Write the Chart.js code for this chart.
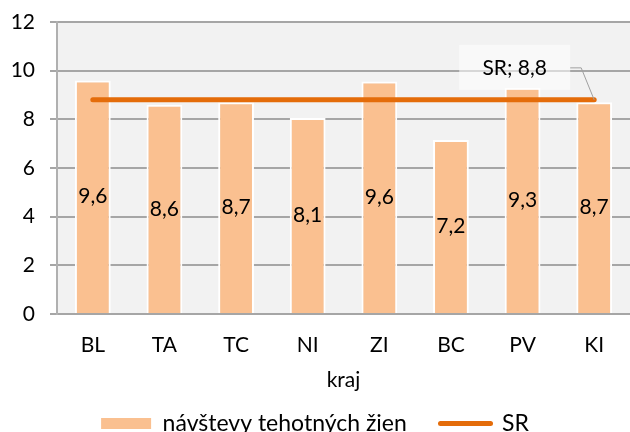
<!DOCTYPE html>
<html>
<head>
<meta charset="utf-8">
<script src="https://cdn.jsdelivr.net/npm/chart.js"></script>
<style>
  html, body { margin: 0; padding: 0; overflow: hidden; background: #fff; }
  #wrap { width: 630px; height: 445px; }
</style>
</head>
<body>
<div id="wrap"><canvas id="c"></canvas></div>
<script>
    'use strict';

    const categories = ['BL', 'TA', 'TC', 'NI', 'ZI', 'BC', 'PV', 'KI'];
    const visitValues = [9.6, 8.6, 8.7, 8.05, 9.55, 7.15, 9.3, 8.7];
    const visitLabels = ['9,6', '8,6', '8,7', '8,1', '9,6', '7,2', '9,3', '8,7'];
    const srValue = 8.8;
    const srLabel = 'SR; 8,8';
    const yTicks = [0, 2, 4, 6, 8, 10, 12];

    const FONT = 'Lato, "Open Sans", sans-serif';
    const FS = 21;

    // fond šedej plochy grafu
    const plotBg = {
        id: 'plotBg',
        beforeDraw(chart) {
            const a = chart.chartArea, ctx = chart.ctx;
            ctx.save();
            ctx.fillStyle = '#f2f2f2';
            ctx.fillRect(a.left, a.top, a.right - a.left, a.bottom - a.top);
            ctx.restore();
        }
    };

    // popisky hodnôt v strede stĺpcov + popisok SR
    const valueLabels = {
        id: 'valueLabels',
        afterDatasetsDraw(chart) {
            const ctx = chart.ctx;
            ctx.save();
            ctx.font = FS + 'px ' + FONT;
            ctx.fillStyle = '#000';
            ctx.textAlign = 'center';
            ctx.textBaseline = 'middle';
            chart.getDatasetMeta(1).data.forEach((bar, i) => {
                ctx.fillText(visitLabels[i], bar.x, (bar.y + bar.base) / 2);
            });

            const pts = chart.getDatasetMeta(0).data;
            const p = pts[pts.length - 1];
            const bx = p.x - 135, by = p.y - 55, bw = 111, bh = 45;
            ctx.fillStyle = 'rgba(255,255,255,0.55)';
            ctx.fillRect(bx, by, bw, bh);
            ctx.strokeStyle = '#a0a0a0';
            ctx.lineWidth = 1;
            ctx.beginPath();
            ctx.moveTo(bx + bw, by + 23);
            ctx.lineTo(bx + bw + 11, by + 23);
            ctx.lineTo(p.x, p.y);
            ctx.stroke();
            ctx.fillStyle = '#000';
            ctx.fillText(srLabel, bx + bw / 2, by + bh / 2 + 1);
            ctx.restore();
        }
    };

    new Chart(document.getElementById('c'), {
        data: {
            labels: categories,
            datasets: [{
                type: 'line',
                label: 'SR',
                data: categories.map(() => srValue),
                borderColor: '#e46c0a',
                borderWidth: 5,
                borderCapStyle: 'round',
                pointRadius: 0,
                order: 0
            }, {
                type: 'bar',
                label: 'návštevy tehotných žien   ',
                data: visitValues,
                backgroundColor: '#fac090',
                borderColor: '#ffffff',
                borderWidth: 2,
                borderSkipped: 'bottom',
                barPercentage: 0.5,
                categoryPercentage: 1,
                order: 1
            }]
        },
        options: {
            responsive: true,
            maintainAspectRatio: false,
            animation: false,
            layout: { padding: { top: 22, right: 0, left: 0, bottom: 0 } },
            plugins: {
                tooltip: { enabled: false },
                legend: {
                    position: 'bottom',
                    reverse: true,
                    labels: {
                        color: '#000',
                        font: { family: FONT, size: 23 },
                        usePointStyle: true,
                        pointStyleWidth: 50,
                        boxHeight: 11,
                        padding: 16,
                        generateLabels(chart) {
                            return chart.data.datasets.map((ds, i) => ({
                                text: ds.label,
                                datasetIndex: i,
                                fillStyle: ds.type === 'bar' ? ds.backgroundColor : ds.borderColor,
                                strokeStyle: ds.type === 'bar' ? ds.backgroundColor : ds.borderColor,
                                lineWidth: ds.type === 'bar' ? 0 : 5,
                                lineCap: 'round',
                                pointStyle: ds.type === 'bar' ? 'rect' : 'line',
                                fontColor: '#000'
                            }));
                        }
                    }
                }
            },
            scales: {
                x: {
                    grid: { display: false },
                    border: { display: false },
                    afterFit(scale) { scale.height = 82; },
                    ticks: { color: '#000', font: { family: FONT, size: FS }, padding: 11 },
                    title: { display: true, text: 'kraj', color: '#000', font: { family: FONT, size: FS }, padding: { top: 0, bottom: 3 } }
                },
                y: {
                    min: 0,
                    max: 12,
                    afterBuildTicks(scale) { scale.ticks = yTicks.map(v => ({ value: v })); },
                    afterFit(scale) { scale.width = 57; scale.paddingTop = 0; },
                    grid: { color: '#a6a6a6', lineWidth: 2, tickLength: 7 },
                    border: { color: '#b0b0b0', width: 2 },
                    ticks: { color: '#000', font: { family: FONT, size: FS }, padding: 15 }
                }
            }
        },
        plugins: [plotBg, valueLabels]
    });
</script>
</body>
</html>
